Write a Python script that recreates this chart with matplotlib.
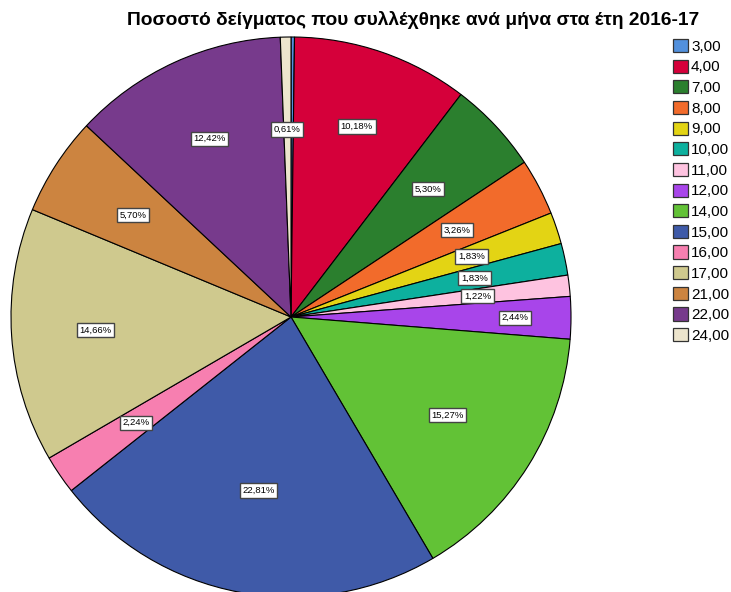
import matplotlib
matplotlib.use("Agg")
import matplotlib.pyplot as plt
import numpy as np
from matplotlib.patches import Patch

plt.rcParams['font.family'] = ['Liberation Sans', 'DejaVu Sans']

title = "Ποσοστό δείγματος που συλλέχθηκε ανά μήνα στα έτη 2016-17"
categories = ["3,00", "4,00", "7,00", "8,00", "9,00", "10,00", "11,00", "12,00",
              "14,00", "15,00", "16,00", "17,00", "21,00", "22,00", "24,00"]
values = [0.20, 10.18, 5.30, 3.26, 1.83, 1.83, 1.22, 2.44,
          15.27, 22.81, 2.24, 14.66, 5.70, 12.42, 0.61]
labels = ["", "10,18%", "5,30%", "3,26%", "1,83%", "1,83%", "1,22%", "2,44%",
          "15,27%", "22,81%", "2,24%", "14,66%", "5,70%", "12,42%", "0,61%"]
colors = ["#5290DC", "#D5003A", "#2B7F2E", "#F26B2B", "#E3D414", "#0DB09E",
          "#FEC3E0", "#A845EA", "#62C236", "#3F5AA8", "#F77FB0", "#CFC98E",
          "#CC8440", "#773A8C", "#EDE5CD"]
label_dist = [0.67, 0.72, 0.67, 0.67, 0.68, 0.67, 0.67, 0.80,
              0.66, 0.63, 0.67, 0.70, 0.67, 0.70, 0.67]

fig = plt.figure(figsize=(7.31, 5.92), dpi=100)
ax = fig.add_axes([11/731, -5/592, 560/731, 560/592])
wedges, _ = ax.pie(values, colors=colors, startangle=90, counterclock=False,
                   radius=1.0, wedgeprops=dict(edgecolor="black", linewidth=0.8))
ax.set_xlim(-1, 1)
ax.set_ylim(-1, 1)
ax.set_aspect('equal')
ax.axis('off')

for w, lab, d in zip(wedges, labels, label_dist):
    if not lab:
        continue
    ang = np.deg2rad((w.theta1 + w.theta2) / 2)
    ax.text(d * np.cos(ang), d * np.sin(ang), lab, ha='center', va='center',
            fontsize=6.8,
            bbox=dict(boxstyle='square,pad=0.28', facecolor='white',
                      edgecolor='#444444', linewidth=1.0))

fig.text(413/731, 1 - 20/592, title, ha='center', va='center',
         fontsize=13.8, fontweight='bold')

handles = [Patch(facecolor=c, edgecolor='#333333', linewidth=0.9) for c in colors]
fig.legend(handles, categories, loc='upper left',
           bbox_to_anchor=(673/731, 1 - 39/592), frameon=False,
           fontsize=11, handlelength=0.98, handleheight=0.95,
           handletextpad=0.2, labelspacing=0.38, borderaxespad=0, borderpad=0)

fig.savefig("out.png", dpi=100)
